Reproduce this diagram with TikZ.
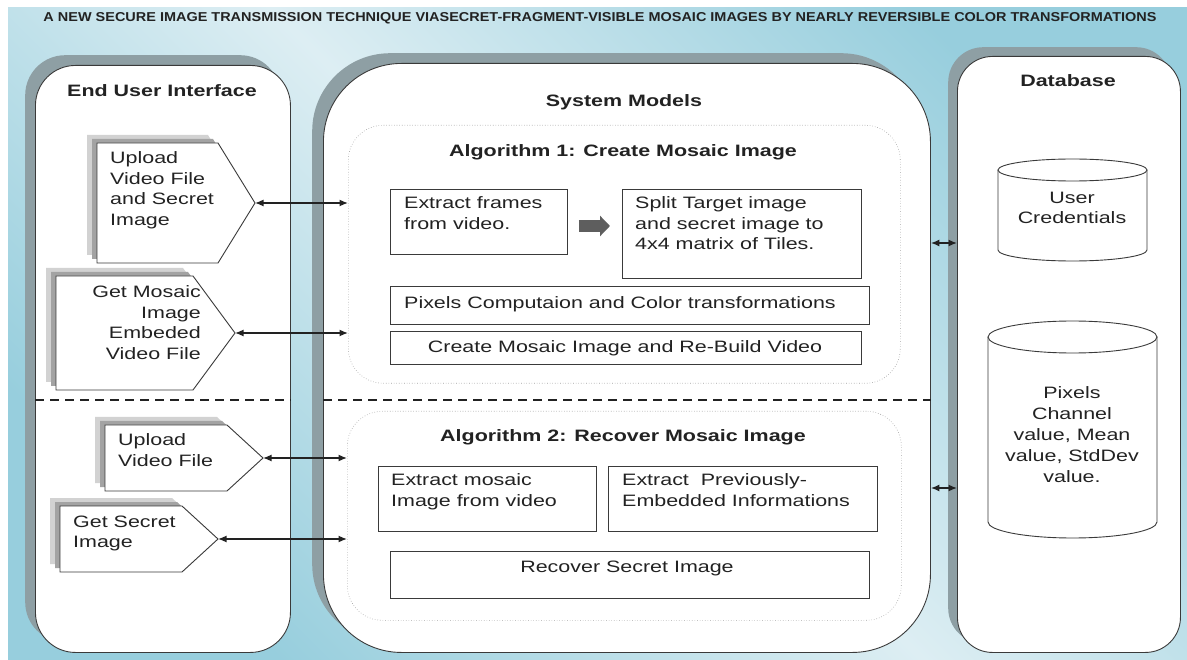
\documentclass[tikz,border=0pt]{standalone}
\usepackage{fontspec}
\usepackage{graphicx}
\setmainfont{Liberation Sans}[FakeStretch=1.3]
\usetikzlibrary{arrows.meta}
\definecolor{bgpale}{HTML}{DDEEF3}
\definecolor{bgblue}{HTML}{97CEDD}
\definecolor{shad}{HTML}{8E9FA4}
\definecolor{pshadA}{HTML}{D2D2D2}
\definecolor{pshadB}{HTML}{A3A3A3}
\definecolor{ink}{HTML}{222222}
\definecolor{edge}{HTML}{3A3A3A}
\definecolor{blockc}{HTML}{5E5E5E}
\pgfdeclarehorizontalshading{bgshade}{100bp}{color(0bp)=(bgblue); color(25bp)=(bgblue); color(50bp)=(bgpale); color(75bp)=(bgblue); color(100bp)=(bgblue)}
\begin{document}
\begin{tikzpicture}[x=1pt,y=-1pt,
  txt/.style={inner sep=0pt, text=ink, font=\fontsize{16.5}{20.5}\selectfont, align=left},
  ttl/.style={inner sep=0pt, text=ink, font=\fontsize{16.5}{20.5}\selectfont\bfseries},
  panel/.style={draw=edge, line width=0.9pt, fill=white, anchor=north west, inner sep=0pt},
  pshadow/.style={fill=shad, anchor=north west, inner sep=0pt},
  algbox/.style={draw=gray!75, dotted, line width=0.6pt, rounded corners=35pt, anchor=north west, inner sep=0pt},
  box/.style={draw=edge, line width=0.9pt, fill=white, anchor=north west, inner sep=0pt},
  pent/.style={draw=edge, line width=0.9pt, fill=white},
  link/.style={{Latex[length=8.5pt,width=7pt]}-{Latex[length=8.5pt,width=7pt]}, line width=1.4pt, draw=ink},
  sepline/.style={line width=1.8pt, dash pattern=on 9pt off 6pt, draw=ink},
  blk/.style={line width=12pt, draw=blockc, -{Triangle[length=10pt,width=20pt]}},
]
\useasboundingbox (0,0) rectangle (1187,660);
\shade[shading=bgshade, shading angle=45] (8,8) rectangle (1187,660);

\node[inner sep=0pt, text=ink] (title) at (600,18) {\resizebox{1113pt}{9pt}{\fontsize{11.5}{13}\selectfont\bfseries A NEW SECURE IMAGE TRANSMISSION TECHNIQUE VIASECRET-FRAGMENT-VISIBLE MOSAIC IMAGES BY NEARLY REVERSIBLE COLOR TRANSFORMATIONS}};

% panels
\node[pshadow, rounded corners=40pt, minimum width=255pt, minimum height=587pt] (euish) at (25,55) {};
\node[panel, rounded corners=40pt, minimum width=255pt, minimum height=587pt] (eui) at (35,65) {};
\node[pshadow, rounded corners=78pt, minimum width=607pt, minimum height=589pt] (syssh) at (312,53) {};
\node[panel, rounded corners=78pt, minimum width=607pt, minimum height=589pt] (sys) at (323,63) {};
\node[pshadow, rounded corners=35pt, minimum width=223pt, minimum height=596pt] (dbsh) at (948,47) {};
\node[panel, rounded corners=35pt, minimum width=223pt, minimum height=596pt] (db) at (957,56) {};

\node[ttl] (euit) at (162,91) {End User Interface};
\node[ttl] (syst) at (624,102) {System Models};
\node[ttl] (dbt) at (1068,81) {Database};

% separators
\coordinate (sepy) at (0,400);
\draw[sepline] (eui.west |- sepy) -- (eui.east |- sepy);
\draw[sepline] (sys.west |- sepy) -- (sys.east |- sepy);

% algorithm boxes
\node[algbox, minimum width=552pt, minimum height=258pt] (a1) at (348,125) {};
\node[algbox, minimum width=554pt, minimum height=209pt] (a2) at (347,411) {};
\node[ttl] (a1t) at (623,152) {Algorithm 1: Create Mosaic Image};
\node[ttl] (a2t) at (623,437) {Algorithm 2: Recover Mosaic Image};

\node[box, minimum width=177pt, minimum height=65pt] (ef) at (390,189) {};
\node[box, minimum width=239pt, minimum height=89pt] (sp) at (622,189) {};
\node[box, minimum width=479pt, minimum height=38pt] (px) at (390,286) {};
\node[box, minimum width=471pt, minimum height=33pt] (cm) at (390,331) {};
\node[box, minimum width=218pt, minimum height=65pt] (em) at (378,466) {};
\node[box, minimum width=269pt, minimum height=65pt] (ep) at (608,466) {};
\node[box, minimum width=479pt, minimum height=47pt] (rs) at (390,551) {};

\node[txt, anchor=north west] (eft) at (404,196.5) {Extract frames\\from video.};
\node[txt, anchor=north west] (spt) at (635,196.5) {Split Target image\\and secret image to\\4x4 matrix of Tiles.};
\node[txt, anchor=north west] (pxt) at (404,296.5) {Pixels Computaion and Color transformations};
\node[txt, anchor=north] (cmt) at (625,340.5) {Create Mosaic Image and Re-Build Video};
\node[txt, anchor=north west] (emt) at (391,473.5) {Extract mosaic\\Image from video};
\node[txt, anchor=north west] (ept) at (622,473.5) {Extract\ \ Previously-\\Embedded Informations};
\node[txt, anchor=north] (rst) at (627,560.5) {Recover Secret Image};

\coordinate (mid1) at (0,226);
\draw[blk, shorten <=11pt, shorten >=12pt] (ef.east |- mid1) -- (sp.west |- mid1);

% pentagons
\foreach \xl/\yt/\xr/\yb/\xt/\nm in {97/143/218/263/255/p1, 56/276/193/390/235/p2, 105/425/227/491/263/p3, 60/506/182/572/218/p4}{
  \pgfmathsetmacro\ym{(\yt+\yb)/2}
  \fill[pshadA] (\xl-10,\yt-8) -- (\xr-10,\yt-8) -- (\xt-10,\ym-8) -- (\xr-10,\yb-8) -- (\xl-10,\yb-8) -- cycle;
  \fill[pshadB] (\xl-5,\yt-4) -- (\xr-5,\yt-4) -- (\xt-5,\ym-4) -- (\xr-5,\yb-4) -- (\xl-5,\yb-4) -- cycle;
  \draw[pent] (\xl,\yt) -- (\xr,\yt) -- (\xt,\ym) -- (\xr,\yb) -- (\xl,\yb) -- cycle;
  \coordinate (\nm) at (\xt,\ym);
}
\node[txt, anchor=north west] (p1t) at (110,151.5) {Upload\\Video File\\and Secret\\Image};
\node[txt, anchor=north east, align=right] (p2t) at (201,285.5) {Get Mosaic\\Image\\Embeded\\Video File};
\node[txt, anchor=north west] (p3t) at (118,433.5) {Upload\\Video File};
\node[txt, anchor=north west] (p4t) at (73,515.5) {Get Secret\\Image};

\draw[link] (p1) -- (p1 -| a1.west);
\draw[link] (p2) -- (p2 -| a1.west);
\draw[link] (p3) -- (p3 -| a2.west);
\draw[link] (p4) -- (p4 -| a2.west);

\coordinate (d1) at (0,243);
\coordinate (d2) at (0,488);
\draw[link] (sys.east |- d1) -- (db.west |- d1);
\draw[link] (sys.east |- d2) -- (db.west |- d2);

% cylinders
\draw[pent] (998,170) -- (998,250) arc[start angle=180, end angle=0, x radius=74.5, y radius=11] -- (1147,170);
\draw[pent] (1072.5,170) ellipse[x radius=74.5, y radius=11];
\draw[pent] (988,337) -- (988,522) arc[start angle=180, end angle=0, x radius=84.5, y radius=16] -- (1157,337);
\draw[pent] (1072.5,337) ellipse[x radius=84.5, y radius=16];
\node[txt, align=center, anchor=north] (c1t) at (1072,191.5) {User\\Credentials};
\node[txt, align=center, anchor=north, font=\fontsize{16.5}{21}\selectfont] (c2t) at (1072,386.5) {Pixels\\Channel\\value, Mean\\value, StdDev\\value.};
\end{tikzpicture}
\end{document}
